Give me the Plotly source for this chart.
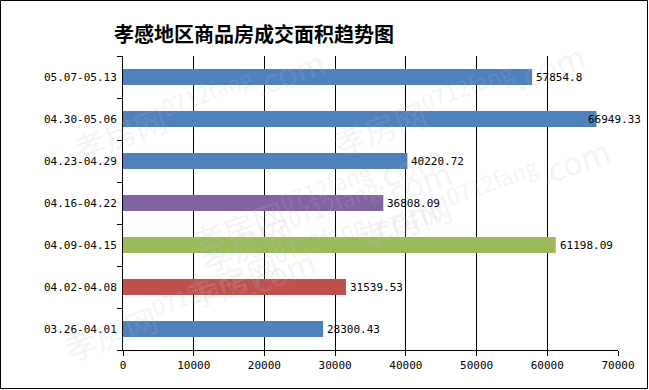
import plotly.graph_objects as go

categories = ["03.26-04.01", "04.02-04.08", "04.09-04.15", "04.16-04.22",
              "04.23-04.29", "04.30-05.06", "05.07-05.13"]
values = [28300.43, 31539.53, 61198.09, 36808.09, 40220.72, 66949.33, 57854.8]
labels = ["28300.43", "31539.53", "61198.09", "36808.09", "40220.72", "66949.33", "57854.8"]
colors = ["#4F81BD", "#C0504D", "#9BBB59", "#8064A2", "#4F81BD", "#4F81BD", "#4F81BD"]
x_ticks = [0, 10000, 20000, 30000, 40000, 50000, 60000, 70000]
title = "孝感地区商品房成交面积趋势图"

W, H = 649, 390
L, R, T, B = 123, 31, 56, 40
pw, ph = W - L - R, H - T - B
XMAX = 70000

fig = go.Figure()
fig.add_trace(go.Bar(
    x=values, y=categories, orientation="h",
    marker=dict(color=colors, line=dict(width=0)),
    width=0.38, hoverinfo="x+y",
))

# watermark text (faint)
wm = [(-0.12, 1.08), (0.95, 1.1), (0.12, 0.52), (0.68, 0.7), (0.38, 0.1), (1.0, 0.3), (-0.14, -0.08)]
for xw, yw in wm:
    fig.add_annotation(x=xw, y=yw, xref="paper", yref="paper",
                       text="孝房网<sup>0712fang</sup>.com",
                       showarrow=False, textangle=-20,
                       font=dict(family="Noto Sans CJK SC", size=32, color="rgba(190,190,190,0.18)"))

# value labels
for v, c, lab in zip(values, categories, labels):
    near_edge = v / XMAX > 0.93
    fig.add_annotation(x=v, y=c, xref="x", yref="y", text=lab, showarrow=False,
                       xanchor="left", yanchor="middle",
                       xshift=-10 if near_edge else 2,
                       font=dict(family="DejaVu Sans Mono", size=11, color="black"))

fig.add_shape(type="rect", xref="paper", yref="paper",
              x0=-(L - 0.5) / pw, x1=1 + (R - 1.5) / pw,
              y0=-(B - 1.5) / ph, y1=1 + (T - 0.5) / ph,
              line=dict(color="black", width=1), layer="above")

fig.update_layout(
    width=W, height=H,
    margin=dict(l=L, r=R, t=T, b=B, autoexpand=False),
    paper_bgcolor="white", plot_bgcolor="white",
    showlegend=False,
    title=dict(text=title, x=254 / W, xanchor="center", y=1 - 35 / H, yanchor="middle",
               font=dict(family="Noto Sans CJK SC", size=20, color="black", weight="bold")),
    xaxis=dict(range=[0, XMAX], tickvals=x_ticks, ticktext=[str(v) for v in x_ticks],
               showgrid=True, gridcolor="black", gridwidth=1,
               showline=True, linecolor="black", linewidth=1,
               ticks="outside", ticklen=5, tickcolor="black",
               tickfont=dict(family="DejaVu Sans Mono", size=11, color="black"),
               zeroline=False, fixedrange=True, automargin=False),
    yaxis=dict(categoryorder="array", categoryarray=categories,
               showline=True, linecolor="black", linewidth=1,
               ticks="outside", ticklen=5, tickcolor="black", tickson="boundaries",
               showgrid=False, automargin=False,
               tickfont=dict(family="DejaVu Sans Mono", size=11, color="black"),
               ticklabelstandoff=3),
)

fig.write_html("out.html", config={"displayModeBar": False},
               post_script="document.body.style.margin='0';")
